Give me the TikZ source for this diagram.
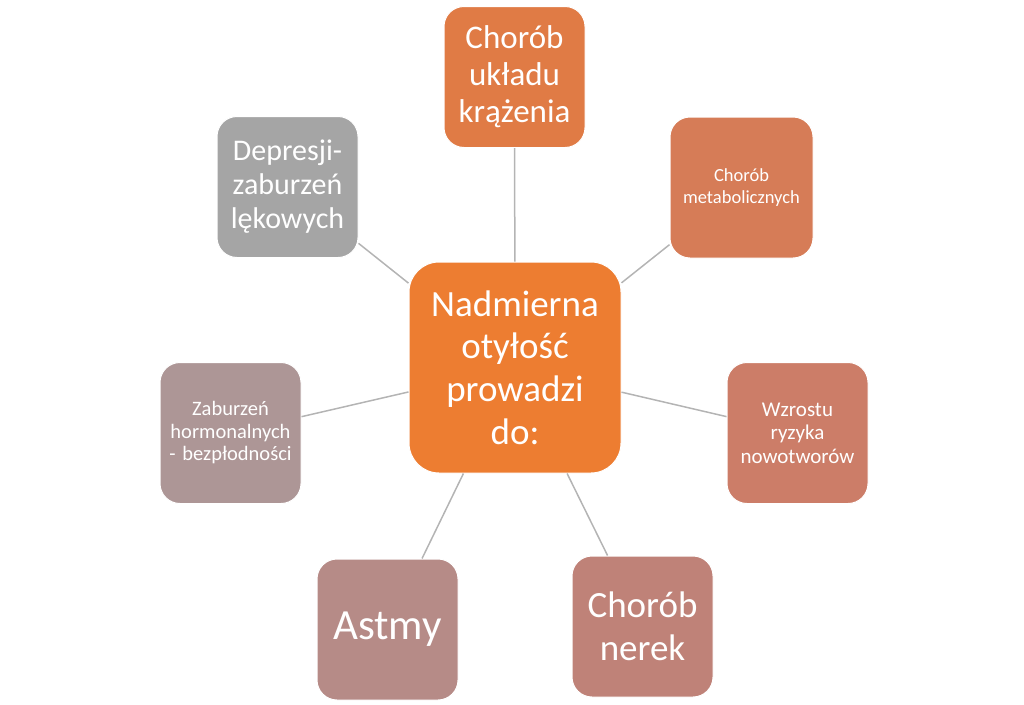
\documentclass[tikz,border=0pt]{standalone}
\usepackage{fontspec}
\setmainfont{Carlito}
\definecolor{cCenter}{HTML}{ED7D31}
\definecolor{cTop}{HTML}{E07B45}
\definecolor{cMeta}{HTML}{D67C57}
\definecolor{cWz}{HTML}{CC7D68}
\definecolor{cNer}{HTML}{BF8278}
\definecolor{cAst}{HTML}{B68B87}
\definecolor{cZab}{HTML}{AD9696}
\definecolor{cDep}{HTML}{A5A5A5}
\definecolor{cLine}{HTML}{B4B4B4}
\tikzset{
  box/.style={draw=white, line width=1pt, rounded corners=20pt, minimum width=141pt, minimum height=141pt,
    inner sep=0pt, text=white, align=center, text width=136pt},
  hub/.style={box, rounded corners=30pt, minimum width=212pt, minimum height=211pt, text width=200pt},
  link/.style={draw=cLine, line width=1.5pt}
}
\begin{document}
\begin{tikzpicture}[x=1pt,y=1pt]
\useasboundingbox (0,0) rectangle (1024,-704);
\node[hub, fill=cCenter, font=\fontsize{37}{42.7}\selectfont] (c) at (515,-367.5) {Nadmierna\\otyłość\\prowadzi\\do:};
\node[box, fill=cTop, font=\fontsize{33}{37}\selectfont] (top) at (514.5,-77) {Chorób\\układu\\krążenia};
\node[box, fill=cMeta, minimum width=143pt, font=\fontsize{18.5}{21.5}\selectfont] (meta) at (741.5,-187.5) {Chorób\\metabolicznych};
\node[box, fill=cWz, font=\fontsize{21}{23.5}\selectfont] (wz) at (797.5,-433) {Wzrostu\\ryzyka\\nowotworów};
\node[box, fill=cNer, font=\fontsize{37}{43}\selectfont] (ner) at (642.5,-626.5) {Chorób\\nerek};
\node[box, fill=cAst, font=\fontsize{43}{48}\selectfont] (ast) at (387.5,-629.5) {Astmy};
\node[box, fill=cZab, font=\fontsize{20.5}{22.5}\selectfont] (zab) at (230.5,-433) {Zaburzeń\\hormonalnych\\- bezpłodności};
\node[box, fill=cDep, font=\fontsize{30}{34}\selectfont] (dep) at (287.5,-187) {Depresji-\\zaburzeń\\lękowych};
\foreach \n in {top,meta,wz,ner,ast,zab,dep} {
  \draw[link] (c) -- (\n);
}
\end{tikzpicture}
\end{document}
